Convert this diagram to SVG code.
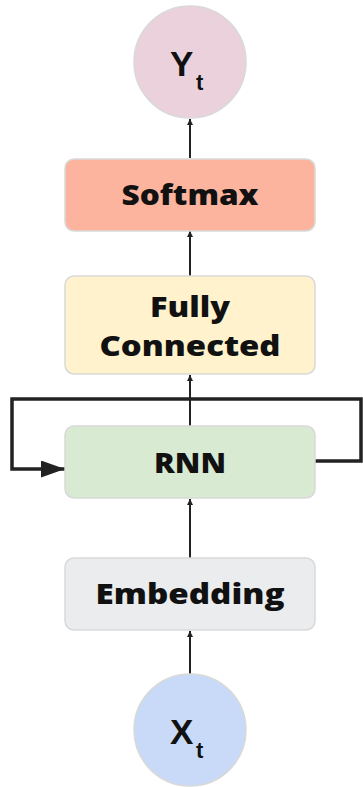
<svg xmlns="http://www.w3.org/2000/svg" width="363" height="787" viewBox="0 0 363 787">
<defs>
<style>
.box{stroke:#d9d9d9;stroke-width:1.5}
.lbl{font-family:"Open Sans","Lato",sans-serif;font-weight:800;font-size:29px;fill:#111;text-anchor:middle}
.sym{font-family:"Liberation Sans",Arial,sans-serif;font-weight:700;fill:#111}
.c{stroke:#222;stroke-width:2;fill:none}
.loop{stroke:#222;stroke-width:3.5;fill:none}
</style>
<marker id="ah" viewBox="0 0 10 10" refX="10" refY="5" markerWidth="6" markerHeight="6" markerUnits="userSpaceOnUse" orient="auto"><path d="M0,0 L10,5 L0,10 z" fill="#222"/></marker>
<marker id="ahBig" viewBox="0 0 10 10" refX="10" refY="5" markerWidth="24" markerHeight="17" markerUnits="userSpaceOnUse" orient="auto" preserveAspectRatio="none"><path d="M0,0 L10,5 L0,10 z" fill="#222"/></marker>
</defs>
<g id="connectors">
<line class="c" x1="190" y1="674" x2="190" y2="631" marker-end="url(#ah)"/>
<line class="c" x1="190" y1="558" x2="190" y2="499" marker-end="url(#ah)"/>
<line class="c" x1="190" y1="426" x2="190" y2="375" marker-end="url(#ah)"/>
<line class="c" x1="190" y1="276" x2="190" y2="231" marker-end="url(#ah)"/>
<line class="c" x1="190" y1="158" x2="190" y2="119" marker-end="url(#ah)"/>
<path class="loop" d="M315,461 H361 V399 H12 V469 H65" marker-end="url(#ahBig)"/>
</g>
<g id="y">
<circle class="box" cx="190" cy="62" r="56" fill="#ead1dc"/>
<text class="sym" x="170" y="76" font-size="35">Y</text>
<text class="sym" x="196" y="90" font-size="22">t</text>
</g>
<g id="softmax">
<rect class="box" x="65" y="159" width="250" height="72" rx="9" fill="#fcb49e"/>
<text class="lbl" x="190" y="205" textLength="137" lengthAdjust="spacingAndGlyphs">Softmax</text>
</g>
<g id="fc">
<rect class="box" x="65" y="276" width="250" height="98" rx="9" fill="#fff2cc"/>
<text class="lbl" x="190" y="317" textLength="80" lengthAdjust="spacingAndGlyphs">Fully</text>
<text class="lbl" x="190" y="356" textLength="181" lengthAdjust="spacingAndGlyphs">Connected</text>
</g>
<g id="rnn">
<rect class="box" x="65" y="426" width="250" height="72" rx="9" fill="#d9ead3"/>
<text class="lbl" x="190" y="473" textLength="72" lengthAdjust="spacingAndGlyphs">RNN</text>
</g>
<g id="embedding">
<rect class="box" x="65" y="558" width="250" height="72" rx="9" fill="#eaecee"/>
<text class="lbl" x="190" y="604" textLength="189" lengthAdjust="spacingAndGlyphs">Embedding</text>
</g>
<g id="x">
<circle class="box" cx="190" cy="730" r="56" fill="#c9daf8"/>
<text class="sym" x="170" y="744" font-size="35">X</text>
<text class="sym" x="196" y="758" font-size="22">t</text>
</g>
</svg>
